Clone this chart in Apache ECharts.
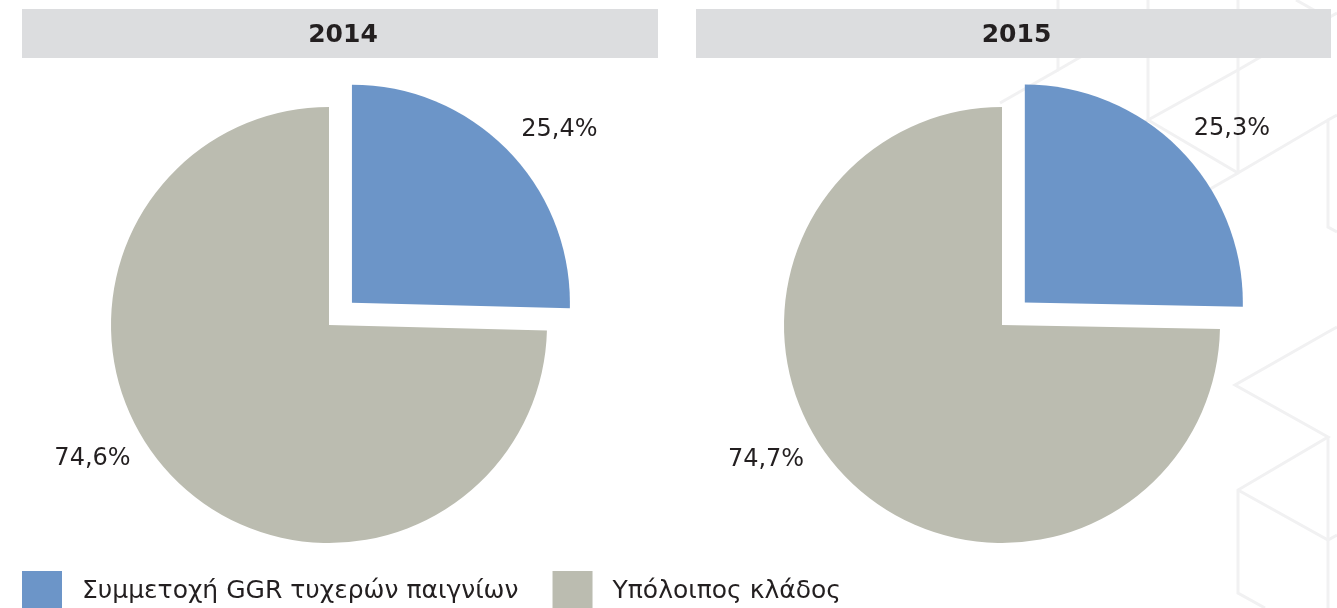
<!DOCTYPE html>
<html>
<head>
<meta charset="utf-8">
<script src="https://cdn.jsdelivr.net/npm/echarts@6/dist/echarts.min.js"></script>
<style>
  html, body { margin: 0; padding: 0; background: #fff; }
  #main { width: 1337px; height: 608px; }
</style>
</head>
<body>
<div id="main"></div>
<script>
// data
var years = ['2014', '2015'];
var names = ['Συμμετοχή GGR τυχερών παιγνίων', 'Υπόλοιπος κλάδος'];
var share2014 = [25.4, 74.6];
var share2015 = [25.3, 74.7];
var colors = ['#6c95c8', '#bbbcb0'];

var font = 'DejaVu Sans';
var centers = [[329, 325], [1002, 325]];
var headers = [[22, 658], [696, 1331]];

// faint cube pattern in the background (decoration only)
var hexLines = [
    [[1058, 0], [1058, 70], [1148, 18]],
    [[1058, 70], [1000, 103]],
    [[1148, 0], [1148, 120], [1238, 173]],
    [[1148, 120], [1030, 188]],
    [[1148, 120], [1238, 70], [1328, 18], [1296, 0]],
    [[1328, 18], [1337, 13]],
    [[1238, 0], [1238, 173], [1328, 120], [1328, 227], [1337, 232]],
    [[1238, 173], [1170, 212]],
    [[1328, 120], [1337, 115]],
    [[1337, 327], [1328, 332], [1235, 385], [1328, 437], [1238, 490], [1238, 593], [1265, 608]],
    [[1238, 490], [1328, 540], [1337, 535]],
    [[1328, 437], [1328, 608]]
];

function pieSeries(idx, values) {
    return {
        type: 'pie',
        center: centers[idx],
        radius: 218,
        startAngle: 90,
        clockwise: true,
        selectedMode: 'single',
        selectedOffset: 32,
        silent: true,
        animation: false,
        emphasis: { disabled: true },
        label: {
            show: true,
            position: 'outside',
            fontFamily: font,
            fontSize: 24,
            color: '#231f20',
            formatter: function (p) {
                return p.value.toFixed(1).replace('.', ',') + '%';
            }
        },
        labelLine: { show: false, length: 20, length2: 0 },
        labelLayout: function (p) {
            return p.dataIndex === 0 ? { dx: -6, dy: -7 } : { dx: -23, dy: -32 };
        },
        data: values.map(function (v, i) {
            return {
                name: names[i],
                value: v,
                selected: i === 0,
                itemStyle: { color: colors[i] }
            };
        })
    };
}

var graphics = hexLines.map(function (pts) {
    return {
        type: 'polyline',
        z: -2,
        shape: { points: pts },
        style: { stroke: '#f1f1f2', lineWidth: 3, fill: null }
    };
});
headers.forEach(function (h) {
    graphics.push({
        type: 'rect',
        z: -1,
        shape: { x: h[0], y: 9, width: h[1] - h[0], height: 49 },
        style: { fill: '#dcdddf' }
    });
});

var chart = echarts.init(document.getElementById('main'));
chart.setOption({
    backgroundColor: '#fff',
    graphic: graphics,
    title: years.map(function (y, i) {
        return {
            text: y,
            left: (headers[i][0] + headers[i][1]) / 2 - 2,
            top: 18,
            textAlign: 'center',
            textStyle: { fontFamily: font, fontSize: 25, fontWeight: 'bold', color: '#231f20' }
        };
    }),
    legend: {
        data: names,
        left: 17,
        top: 566,
        icon: 'rect',
        itemWidth: 40,
        itemHeight: 40,
        itemGap: 34,
        selectedMode: false,
        textStyle: { fontFamily: font, fontSize: 25, color: '#231f20', padding: [0, 0, 14, 15] }
    },
    series: [pieSeries(0, share2014), pieSeries(1, share2015)]
});
</script>
</body>
</html>
